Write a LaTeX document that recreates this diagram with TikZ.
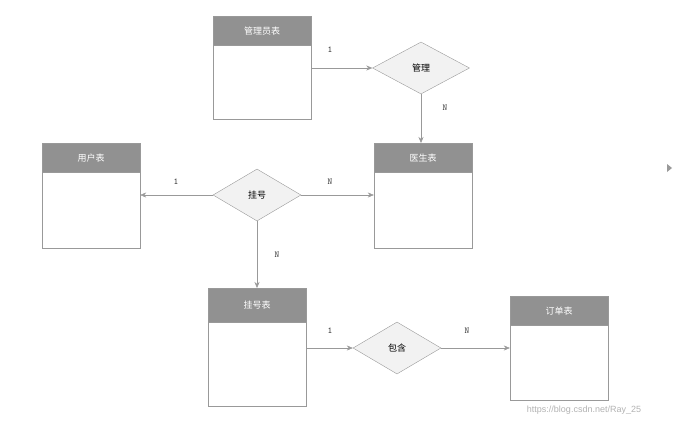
\documentclass[tikz,border=0pt]{standalone}
\usepackage{fontspec}
\newfontfamily\cjk{Noto Sans CJK SC}
\usetikzlibrary{shapes.geometric,arrows.meta}
\begin{document}
\begin{tikzpicture}[x=1pt,y=-1pt,
  tbody/.style={draw=gray!80,fill=white,minimum width=98pt,inner sep=0pt,anchor=north},
  thead/.style={draw=gray!80,fill=gray!85!black!75,minimum width=98pt,minimum height=29pt,inner sep=0pt,anchor=north,text=white,font=\cjk\fontsize{9}{9}\selectfont},
  rel/.style={diamond,draw=gray!80,fill=gray!10,aspect=1.8,minimum width=88pt,minimum height=52pt,inner sep=0pt,font=\cjk\fontsize{9}{9}\selectfont},
  conn/.style={draw=gray!80,-{Stealth[length=6pt,width=5pt]}},
  lbl/.style={font=\ttfamily\fontsize{9}{9}\selectfont,text=black!80}]
\useasboundingbox (0,0) rectangle (692,428);
% tables
\node[tbody,minimum height=103pt] (gb) at (262,16) {};
\node[thead] (gh) at (262,16) {管理员表};
\node[tbody,minimum height=105pt] (yb) at (423,143) {};
\node[thead] (yh) at (423,143) {医生表};
\node[tbody,minimum height=105pt] (ub) at (91,143) {};
\node[thead] (uh) at (91,143) {用户表};
\node[tbody,minimum height=118pt] (hb) at (257,288) {};
\node[thead,minimum height=34pt] (hh) at (257,288) {挂号表};
\node[tbody,minimum height=104pt] (db) at (559,296) {};
\node[thead] (dh) at (559,296) {订单表};
% relations
\node[rel,minimum width=97pt] (gl) at (421,68) {管理};
\node[rel] (gh2) at (257,195) {挂号};
\node[rel] (bh) at (397,348) {包含};
% connectors
\draw[conn] (gb.east |- gl) -- (gl.west);
\draw[conn] (gl.south) -- (yh.north -| gl);
\draw[conn] (gh2.west) -- (ub.east |- gh2);
\draw[conn] (gh2.east) -- (yb.west |- gh2);
\draw[conn] (gh2.south) -- (hh.north);
\draw[conn] (hb.east |- bh) -- (bh.west);
\draw[conn] (bh.east) -- (db.west |- bh);
% labels
\node[lbl] (l1) at (330,50) {1};
\node[lbl] (l2) at (445,108) {N};
\node[lbl] (l3) at (176,182) {1};
\node[lbl] (l4) at (330,182) {N};
\node[lbl] (l5) at (277,255) {N};
\node[lbl] (l6) at (330,331) {1};
\node[lbl] (l7) at (467,331) {N};
\fill[gray!80] (667,164) -- (672,168) -- (667,172) -- cycle;
\node[font=\fontspec{Liberation Sans}\fontsize{9}{9}\selectfont,text=gray!60] (wm) at (584,410) {https://blog.csdn.net/Ray\_25};
\end{tikzpicture}
\end{document}
